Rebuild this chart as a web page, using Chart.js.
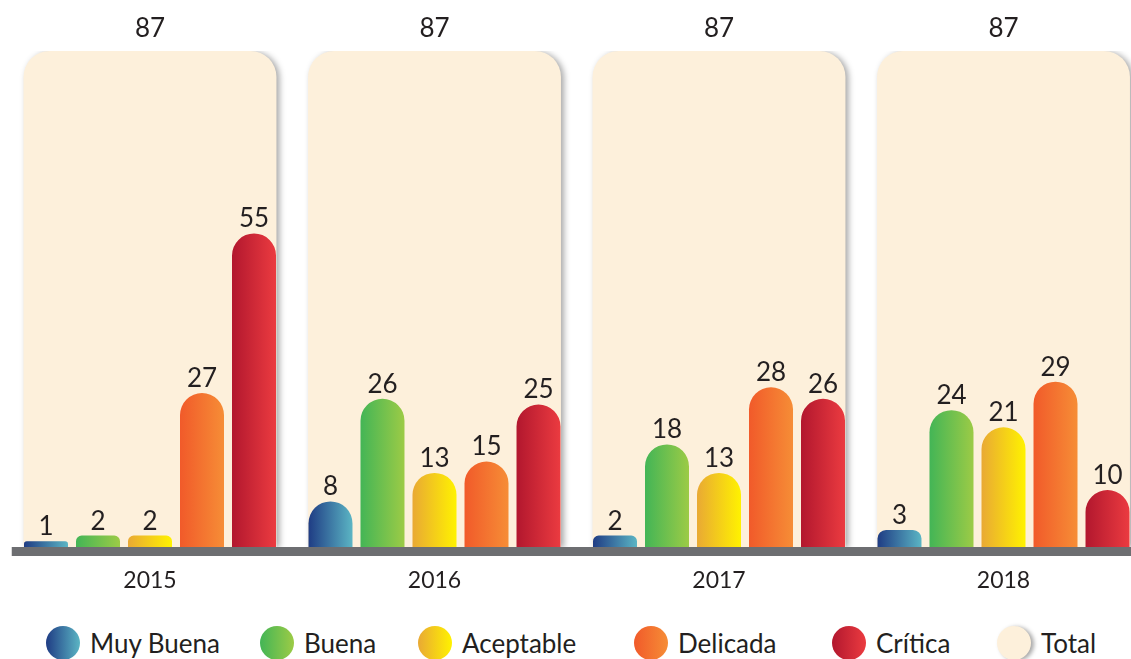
<!DOCTYPE html>
<html lang="es">
<head>
<meta charset="utf-8">
<title>Calidad por año</title>
<script src="https://cdn.jsdelivr.net/npm/chart.js@4.4.1/dist/chart.umd.min.js"></script>
<style>
    html, body {
        margin: 0;
        padding: 0;
        background: #ffffff;
        overflow: hidden;
        width: 1131px;
        height: 659px;
    }
    #wrap {
        position: absolute;
        left: 0;
        top: 0;
        width: 1146px;
        height: 600px;
    }
    #legend {
        position: absolute;
        left: 46px;
        top: 626px;
        display: flex;
        align-items: center;
        font-family: Lato, "Noto Sans", sans-serif;
        font-size: 26px;
        color: #231f20;
    }
    .legend-item {
        display: flex;
        align-items: center;
    }
    .legend-item:nth-child(1) { width: 214px; }
    .legend-item:nth-child(2) { width: 158px; }
    .legend-item:nth-child(3) { width: 216px; }
    .legend-item:nth-child(4) { width: 198px; }
    .legend-item:nth-child(5) { width: 165px; }
    .legend-dot {
        width: 34px;
        height: 34px;
        border-radius: 50%;
        margin-right: 10px;
    }
</style>
</head>
<body>
<div id="wrap">
    <canvas id="qualityChart" width="1146" height="600"></canvas>
</div>
<div id="legend"></div>

<script>
// Data
const years = ['2015', '2016', '2017', '2018'];
const seriesNames = ['Muy Buena', 'Buena', 'Aceptable', 'Delicada', 'Crítica'];
const muyBuena = [1, 8, 2, 3];
const buena = [2, 26, 18, 24];
const aceptable = [2, 13, 13, 21];
const delicada = [27, 15, 28, 29];
const critica = [55, 25, 26, 10];
const total = [87, 87, 87, 87];

// Gradient colors (left -> right)
const seriesColors = [
    ['#1f3c84', '#5bb5c4'],
    ['#43b556', '#9ccb46'],
    ['#e9a934', '#fff200'],
    ['#f15a2a', '#f68d36'],
    ['#b2172e', '#eb3b40']
];
const totalColor = '#fdf0db';
const textColor = '#231f20';

const groupPct = 0.914;
const barPct = 0.846;

// horizontal gradient for each bar, based on where the scale puts it
function barGradient(context, colors) {
    const chart = context.chart;
    const xs = chart.scales.x;
    if (!xs || context.type !== 'data') return colors[1];
    const catW = (xs.right - xs.left) / years.length;
    const groupW = catW * groupPct;
    const slot = groupW / seriesNames.length;
    const center = xs.getPixelForValue(context.dataIndex) - groupW / 2 + slot * (context.datasetIndex + 0.5);
    const w = slot * barPct;
    if (!isFinite(center) || !isFinite(w) || w <= 0) return colors[1];
    const g = chart.ctx.createLinearGradient(center - w / 2, 0, center + w / 2, 0);
    g.addColorStop(0, colors[0]);
    g.addColorStop(1, colors[1]);
    return g;
}

const seriesData = [muyBuena, buena, aceptable, delicada, critica];

const datasets = seriesNames.map((name, i) => ({
    label: name,
    data: seriesData[i],
    backgroundColor: (ctx) => barGradient(ctx, seriesColors[i]),
    borderWidth: 0,
    borderSkipped: false,
    borderRadius: { topLeft: 22, topRight: 22, bottomLeft: 0, bottomRight: 0 },
    categoryPercentage: groupPct,
    barPercentage: barPct
}));

// Total sits behind each group, not grouped with the others
datasets.push({
    label: 'Total',
    data: total,
    grouped: false,
    backgroundColor: totalColor,
    borderWidth: 0,
    borderSkipped: false,
    borderRadius: { topLeft: 26, topRight: 26, bottomLeft: 0, bottomRight: 0 },
    categoryPercentage: 1,
    barPercentage: 0.889
});

// shadow behind the Total bars, value labels, gray base line
const decoPlugin = {
    id: 'deco',
    beforeDatasetDraw(chart, args) {
        if (args.index !== 5) return;
        const ctx = chart.ctx;
        ctx.save();
        ctx.shadowColor = 'rgba(0, 0, 0, 0.35)';
        ctx.shadowBlur = 6;
        ctx.shadowOffsetX = 3;
        ctx.shadowOffsetY = 1;
    },
    afterDatasetDraw(chart, args) {
        if (args.index !== 5) return;
        chart.ctx.restore();
    },
    afterDatasetsDraw(chart) {
        const ctx = chart.ctx;
        const area = chart.chartArea;
        ctx.save();
        ctx.fillStyle = '#6d6e71';
        ctx.fillRect(area.left + 4, area.bottom, area.right - area.left, 9);

        ctx.fillStyle = textColor;
        ctx.font = '26px Lato, "Noto Sans", sans-serif';
        ctx.textAlign = 'center';
        ctx.textBaseline = 'alphabetic';
        chart.data.datasets.forEach((ds, di) => {
            const meta = chart.getDatasetMeta(di);
            const off = di === 5 ? 14 : 6;
            meta.data.forEach((bar, i) => {
                ctx.fillText(String(ds.data[i]), bar.x, bar.y - off);
            });
        });
        ctx.restore();
    }
};

new Chart(document.getElementById('qualityChart'), {
    type: 'bar',
    data: {
        labels: years,
        datasets: datasets
    },
    options: {
        responsive: false,
        animation: false,
        layout: {
            padding: { top: 51, left: 7.75, right: 0.25, bottom: 0 }
        },
        plugins: {
            legend: { display: false },
            tooltip: { enabled: false }
        },
        scales: {
            x: {
                grid: { display: false, drawTicks: false },
                border: { display: false },
                ticks: {
                    padding: 20,
                    color: textColor,
                    font: { family: 'Lato, "Noto Sans", sans-serif', size: 23 }
                },
                afterFit: function(scale) {
                    scale.height = 53;
                }
            },
            y: {
                display: false,
                min: 0,
                max: 87
            }
        }
    },
    plugins: [decoPlugin]
});

// Legend
const legend = document.getElementById('legend');
const legendItems = seriesNames.map((n, i) => ({ name: n, bg: 'linear-gradient(to right, ' + seriesColors[i][0] + ', ' + seriesColors[i][1] + ')' }));
legendItems.push({ name: 'Total', bg: totalColor, shadow: true });
legendItems.forEach(item => {
    const el = document.createElement('div');
    el.className = 'legend-item';
    const dot = document.createElement('div');
    dot.className = 'legend-dot';
    dot.style.background = item.bg;
    if (item.shadow) dot.style.boxShadow = '3px 1px 4px rgba(0,0,0,0.35)';
    const label = document.createElement('span');
    label.textContent = item.name;
    el.appendChild(dot);
    el.appendChild(label);
    legend.appendChild(el);
});
</script>
</body>
</html>
